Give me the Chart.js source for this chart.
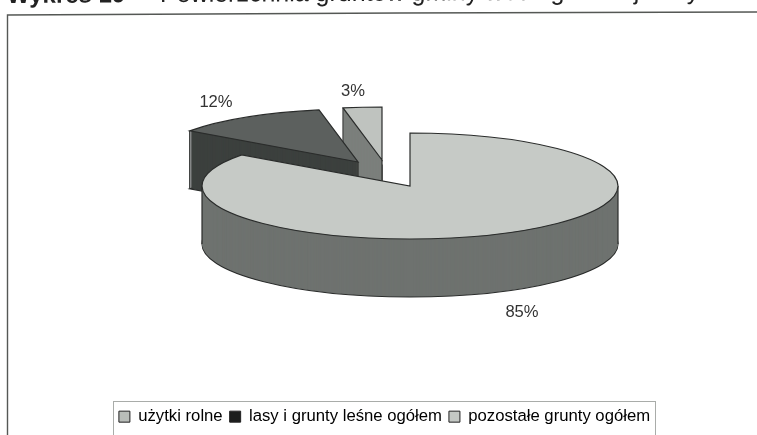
<!DOCTYPE html>
<html>
<head>
<meta charset="utf-8">
<style>
  html, body { margin: 0; padding: 0; background: #fff; overflow: hidden; }
  #wrap { position: relative; width: 757px; height: 435px; }
</style>
<script src="https://cdn.jsdelivr.net/npm/chart.js@4"></script>
</head>
<body>
<div id="wrap"><canvas id="myChart" width="757" height="435"></canvas></div>
<script>
const categories = ["użytki rolne", "lasy i grunty leśne ogółem", "pozostałe grunty ogółem"];
const shares = [85, 12, 3];
const shareLabels = ["85%", "12%", "3%"];

const topColors = ["#c6cac6", "#5c605e", "#bfc3bf"];
const wallColors = ["#6e726f", "#3c403e", "#7b7f7c"];
const legendColors = ["#b9bdb9", "#1c1e1d", "#c4c8c4"];

// look of the tilted pie, canvas pixels
const pie = { x: 410, y: 186, rx: 208, ry: 53, depth: 58 };
const sliceShift = [[0, 0], [-52, -24], [-28, -26]];
const labelPos = [[522, 317], [216, 107], [353, 96]];
const drawOrder = [2, 1, 0];
const edgeColor = "#2a2c2b";

function slicePath(ctx, arc, sx, sy) {
  ctx.beginPath();
  ctx.moveTo(sx, sy);
  ctx.ellipse(sx, sy, pie.rx, pie.ry, 0, arc.startAngle, arc.endAngle);
  ctx.closePath();
}

function rimPoint(angle, sx, sy) {
  return [sx + pie.rx * Math.cos(angle), sy + pie.ry * Math.sin(angle)];
}

// draws the arcs chart.js laid out, squashed and extruded
const tiltedPie = {
  id: "tiltedPie",
  beforeDatasetsDraw(chart) {
    const ctx = chart.ctx;
    const arcs = chart.getDatasetMeta(0).data;
    ctx.save();
    ctx.lineWidth = 1.2;
    ctx.strokeStyle = edgeColor;
    drawOrder.forEach((i) => {
      const arc = arcs[i];
      const sx = pie.x + sliceShift[i][0];
      const sy = pie.y + sliceShift[i][1];

      slicePath(ctx, arc, sx, sy + pie.depth);
      ctx.fillStyle = wallColors[i];
      ctx.fill();
      ctx.stroke();
      ctx.fillStyle = wallColors[i];
      for (let d = pie.depth - 1; d > 0; d--) {
        slicePath(ctx, arc, sx, sy + d);
        ctx.fill();
      }

      // only the wall edges you can actually see
      const corners = i === 0
        ? [[sx - pie.rx, sy], [sx + pie.rx, sy]]
        : [rimPoint(arc.startAngle, sx, sy), [sx, sy]];
      corners.forEach((p) => {
        ctx.beginPath();
        ctx.moveTo(p[0], p[1]);
        ctx.lineTo(p[0], p[1] + pie.depth);
        ctx.stroke();
      });

      slicePath(ctx, arc, sx, sy);
      ctx.fillStyle = topColors[i];
      ctx.fill();
      ctx.stroke();
    });
    ctx.restore();
    return false;
  },
  afterDraw(chart) {
    const ctx = chart.ctx;
    ctx.save();

    // outer frame, open at the bottom and right like the scan
    ctx.strokeStyle = "#555855";
    ctx.lineWidth = 1.4;
    ctx.beginPath();
    ctx.moveTo(7.5, 435);
    ctx.lineTo(7.5, 15);
    ctx.lineTo(400, 13);
    ctx.lineTo(757, 12);
    ctx.stroke();

    // legend frame runs off the bottom edge
    ctx.strokeStyle = "#a9aca9";
    ctx.lineWidth = 1;
    ctx.strokeRect(113.5, 401.5, 542, 40);

    ctx.fillStyle = "#333";
    ctx.font = "16.6px 'Liberation Sans'";
    ctx.textAlign = "center";
    ctx.textBaseline = "alphabetic";
    shareLabels.forEach((t, i) => ctx.fillText(t, labelPos[i][0], labelPos[i][1]));

    // title, cut off by the top edge of the scan and slightly skewed
    ctx.translate(7, 3);
    ctx.rotate(-0.006);
    ctx.fillStyle = "#222";
    ctx.textAlign = "left";
    ctx.font = "bold 24px 'Liberation Sans'";
    ctx.fillText("Wykres 19", 0, 0);
    ctx.font = "25px 'Liberation Sans'";
    ctx.fillText("Powierzchnia gruntów gminy według rodzaju użytków", 153, 0);
    ctx.restore();
  }
};

const myChart = new Chart(document.getElementById("myChart"), {
  type: "pie",
  data: {
    labels: categories,
    datasets: [{ data: shares, backgroundColor: topColors }]
  },
  options: {
    responsive: false,
    animation: false,
    layout: { padding: { left: 12, bottom: 0 } },
    plugins: {
      tooltip: { enabled: false },
      legend: {
        position: "bottom",
        labels: {
          color: "#222",
          boxWidth: 11,
          boxHeight: 11,
          padding: 7,
          font: { family: "'Liberation Sans'", size: 16.7 },
          generateLabels(chart) {
            return categories.map((name, i) => ({
              text: name,
              fillStyle: legendColors[i],
              strokeStyle: "#222",
              lineWidth: 1,
              index: i
            }));
          }
        }
      }
    }
  },
  plugins: [tiltedPie]
});
</script>
</body>
</html>
